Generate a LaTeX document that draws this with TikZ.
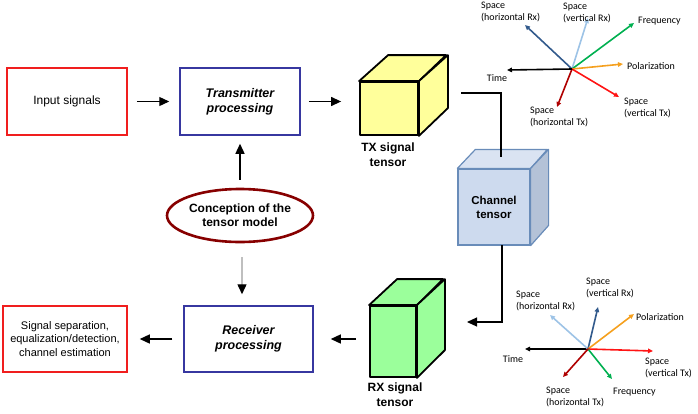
\documentclass[tikz,border=0pt]{standalone}
\usepackage{fontspec}
\setmainfont{Liberation Sans}
\newfontfamily\axisfont{Carlito}
\usetikzlibrary{arrows.meta,shapes.geometric}

\definecolor{boxred}{RGB}{240,30,30}
\definecolor{procblue}{RGB}{55,55,160}
\definecolor{modelred}{RGB}{135,0,0}
\definecolor{txyellow}{RGB}{255,255,155}
\definecolor{rxgreen}{RGB}{155,255,155}
\definecolor{chfront}{RGB}{205,218,238}
\definecolor{chtop}{RGB}{218,227,242}
\definecolor{chside}{RGB}{180,194,215}
\definecolor{chedge}{RGB}{105,140,185}
\definecolor{axdarkblue}{RGB}{50,90,140}
\definecolor{axlightblue}{RGB}{157,195,230}
\definecolor{axgreen}{RGB}{0,176,80}
\definecolor{axorange}{RGB}{245,160,30}
\definecolor{axred}{RGB}{255,20,20}
\definecolor{axdarkred}{RGB}{175,0,0}

\begin{document}
\begin{tikzpicture}[x=1pt,y=-1pt,
      srcbox/.style={draw=boxred, line width=1.5pt, minimum width=120pt, minimum height=67pt,
        align=center, font=\fontsize{12}{14}\selectfont},
      procbox/.style={draw=procblue, line width=1.5pt, minimum width=120pt, minimum height=67pt,
        align=center, font=\fontsize{12.5}{15}\selectfont\bfseries\itshape},
      model/.style={ellipse, draw=modelred, line width=2.6pt, minimum width=146pt, minimum height=53pt,
        inner sep=0pt, align=center, font=\fontsize{12}{14}\selectfont\bfseries},
      cubefront/.style={draw, line width=1.8pt, line join=round, inner sep=0pt},
      cubeface/.style={draw, line width=1.8pt, line join=round},
      cubelabel/.style={align=center, inner sep=0pt, font=\fontsize{12}{15}\selectfont\bfseries},
      arr/.style={-{Triangle[length=10pt,width=9pt]}, line width=1.3pt},
      link/.style={line width=1.1pt},
      axis/.style={-{Triangle[length=5pt,width=4.5pt]}, line width=1.6pt},
      axlabel/.style={anchor=west, align=left, inner sep=0pt, font=\axisfont\fontsize{10}{12}\selectfont}]
    \useasboundingbox (0,0) rectangle (698,413);

    % boxes of the processing chain
    \node[srcbox] (input) at (67,101.5) {Input signals};
    \node[procbox] (txproc) at (240,101.5) {Transmitter\\processing};
    \node[procbox, minimum width=129pt, minimum height=66pt] (rxproc) at (248.5,339) {Receiver\\processing};
    \node[srcbox, minimum width=124pt, minimum height=66pt, font=\fontsize{11}{13.5}\selectfont]
      (output) at (65,339) {Signal separation,\\equalization/detection,\\channel estimation};
    \node[model] (model) at (240,215.5) {Conception of the\\tensor model};

    % TX signal tensor
    \node[cubefront, fill=txyellow, minimum width=58pt, minimum height=53pt] (txcube) at (389,108.5) {};
    \draw[cubeface, fill=txyellow] (txcube.north west) -- ++(29,-26) -- ++(58,0) -- (txcube.north east) -- cycle;
    \draw[cubeface, fill=txyellow] (txcube.north east) -- ++(29,-26) -- ++(0,53) -- (txcube.south east) -- cycle;
    \node[cubelabel] (txlab) at (388,154.5) {TX signal\\tensor};

    % RX signal tensor
    \node[cubefront, fill=rxgreen, minimum width=46pt, minimum height=71pt] (rxcube) at (393,341.5) {};
    \draw[cubeface, fill=rxgreen] (rxcube.north west) -- ++(28,-26) -- ++(46,0) -- (rxcube.north east) -- cycle;
    \draw[cubeface, fill=rxgreen] (rxcube.north east) -- ++(28,-26) -- ++(0,71) -- (rxcube.south east) -- cycle;
    \node[cubelabel] (rxlab) at (395,394.5) {RX signal\\tensor};

    % channel tensor
    \node[draw=chedge, line width=1.2pt, fill=chfront, minimum width=72pt, minimum height=76pt, inner sep=0pt]
      (chcube) at (494,207) {};
    \draw[draw=chedge, line width=1.2pt, line join=round, fill=chtop]
      (chcube.north west) -- ++(18,-19) -- ++(72,0) -- (chcube.north east) -- cycle;
    \draw[draw=chedge, line width=1.2pt, line join=round, fill=chside]
      (chcube.north east) -- ++(18,-19) -- ++(0,76) -- (chcube.south east) -- cycle;
    \node[cubelabel, font=\fontsize{11.5}{14}\selectfont\bfseries] at (chcube) {Channel\\tensor};

    % connectors
    \coordinate (txout) at (461,93);
    \coordinate (chin) at (501,157);
    \coordinate (chout) at (502,245);
    \coordinate (rxin) at (467,322);
    \draw[link] (txout) -| (chin);
    \draw[arr, line width=1.1pt] (chout) |- (rxin);
    \draw[arr, shorten <=9pt, shorten >=10pt] (input) -- (txproc);
    \draw[arr, shorten <=8pt, shorten >=18pt] (txproc.east) -- (txproc.east -| txcube.west);
    \draw[arr, shorten <=8pt, shorten >=8pt] (model) -- (txproc);
    \draw[-{Triangle[length=10pt,width=9pt,color=black]}, line width=1.4pt, draw=black!25, shorten <=14pt, shorten >=11pt]
      ([xshift=2pt]model.south) -- ([xshift=2pt]model.south |- rxproc.north);
    \draw[arr, shorten <=13pt, shorten >=17pt] (rxproc.east -| rxcube.west) -- (rxproc.east);
    \draw[arr, shorten <=11pt, shorten >=12pt] (rxproc) -- (output);

    % dimensions of the TX tensor
    \coordinate (topO) at (572,69);
    \coordinate (tHRx) at (525,25);
    \coordinate (tVRx) at (588,18);
    \coordinate (tFreq) at (634,23);
    \coordinate (tPol) at (623,64);
    \coordinate (tVTx) at (619,97);
    \coordinate (tHTx) at (557,107);
    \coordinate (tTime) at (507,70);
    \draw[axis, draw=axdarkblue] (topO) -- (tHRx);
    \draw[axis, draw=axlightblue] (topO) -- (tVRx);
    \draw[axis, draw=axgreen] (topO) -- (tFreq);
    \draw[axis, draw=axorange] (topO) -- (tPol);
    \draw[axis, draw=axred] (topO) -- (tVTx);
    \draw[axis, draw=axdarkred] (topO) -- (tHTx);
    \draw[axis, draw=black] (topO) -- (tTime);
    \node[axlabel] (lHRx) at (481,12) {Space\\(horizontal Rx)};
    \node[axlabel] (lVRx) at (563,13) {Space\\(vertical Rx)};
    \node[axlabel] (lFreq) at (638,21) {Frequency};
    \node[axlabel] (lPol) at (627,66) {Polarization};
    \node[axlabel] (lVTx) at (624,108) {Space\\(vertical Tx)};
    \node[axlabel] (lHTx) at (530,117) {Space\\(horizontal Tx)};
    \node[axlabel, anchor=center] (lTime) at (497,78) {Time};

    % dimensions of the RX tensor
    \coordinate (botO) at (588,349);
    \coordinate (bTime) at (525,349);
    \coordinate (bHRx) at (550,315);
    \coordinate (bVRx) at (598,307);
    \coordinate (bPol) at (634,314);
    \coordinate (bVTx) at (653,351);
    \coordinate (bFreq) at (612,379);
    \coordinate (bHTx) at (563,377);
    \draw[axis, draw=black] (botO) -- (bTime);
    \draw[axis, draw=axlightblue] (botO) -- (bHRx);
    \draw[axis, draw=axdarkblue] (botO) -- (bVRx);
    \draw[axis, draw=axorange] (botO) -- (bPol);
    \draw[axis, draw=axred] (botO) -- (bVTx);
    \draw[axis, draw=axgreen] (botO) -- (bFreq);
    \draw[axis, draw=axdarkred] (botO) -- (bHTx);
    \node[axlabel, anchor=center] (mTime) at (513,359) {Time};
    \node[axlabel] (mHRx) at (516,301) {Space\\(horizontal Rx)};
    \node[axlabel] (mVRx) at (586,288) {Space\\(vertical Rx)};
    \node[axlabel] (mPol) at (636,317) {Polarization};
    \node[axlabel] (mVTx) at (645,368) {Space\\(vertical Tx)};
    \node[axlabel] (mFreq) at (613,392) {Frequency};
    \node[axlabel] (mHTx) at (546,397) {Space\\(horizontal Tx)};
  \end{tikzpicture}
\end{document}
